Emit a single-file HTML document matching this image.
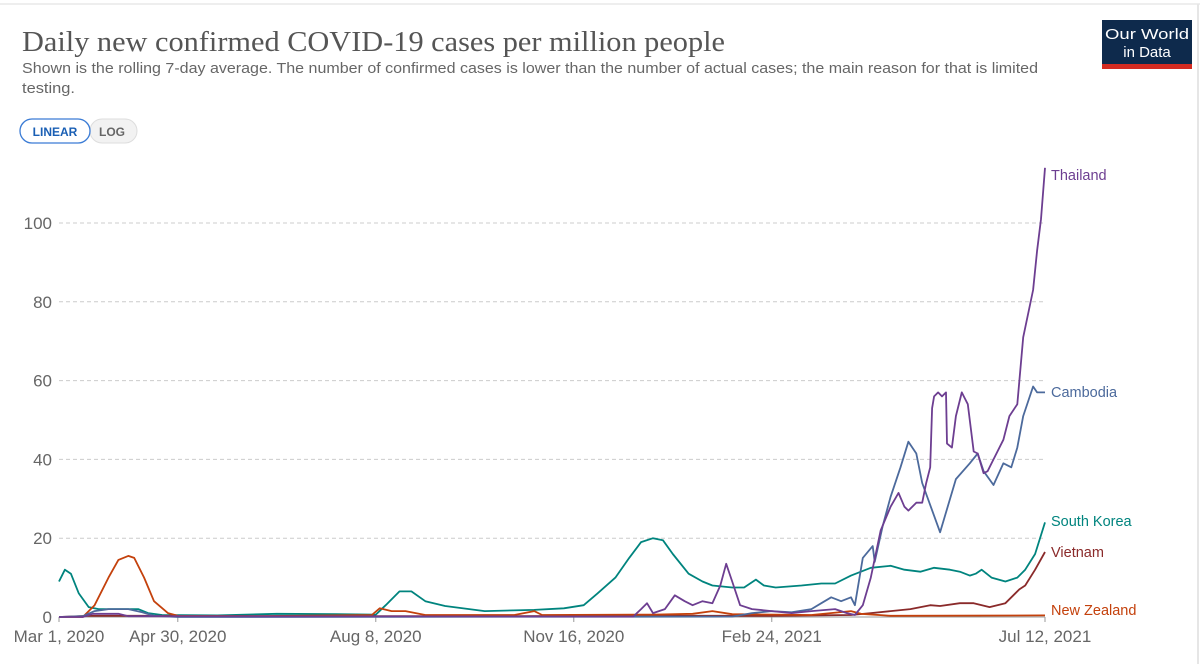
<!DOCTYPE html>
<html><head><meta charset="utf-8">
<style>
html,body{margin:0;padding:0;background:#fff;width:1200px;height:664px;overflow:hidden;font-family:"Liberation Sans",sans-serif;}
</style></head>
<body>
<svg id="chart" width="1200" height="664" viewBox="0 0 1200 664" xmlns="http://www.w3.org/2000/svg">
  <rect x="0" y="0" width="1200" height="664" fill="#fff"/>
  <line x1="0" y1="4" x2="1200" y2="4" stroke="#eee" stroke-width="2"/>
  <line x1="1198" y1="4" x2="1198" y2="664" stroke="#e6e6e6" stroke-width="2"/>
  <text x="22" y="51" font-family="Liberation Serif, serif" font-size="28" fill="#555" textLength="703" lengthAdjust="spacingAndGlyphs">Daily new confirmed COVID-19 cases per million people</text>
  <text x="22" y="73" font-size="15" fill="#666" textLength="1016" lengthAdjust="spacingAndGlyphs">Shown is the rolling 7-day average. The number of confirmed cases is lower than the number of actual cases; the main reason for that is limited</text>
  <text x="22" y="93" font-size="15" fill="#666" textLength="53" lengthAdjust="spacingAndGlyphs">testing.</text>
  <g>
    <rect x="1102" y="20" width="90" height="44" fill="#0e2a4c"/>
    <rect x="1102" y="64" width="90" height="5" fill="#d42b21"/>
    <text x="1147" y="39" font-size="15" fill="#fff" text-anchor="middle" textLength="84" lengthAdjust="spacingAndGlyphs">Our World</text>
    <text x="1147" y="57" font-size="15" fill="#fff" text-anchor="middle">in Data</text>
  </g>
  <g>
    <rect x="90" y="119" width="47" height="24" rx="12" fill="#f2f2f2" stroke="#ddd"/>
    <rect x="20" y="119" width="70" height="24" rx="12" fill="#fff" stroke="#3a7bd5" stroke-width="1.3"/>
    <text x="55" y="136" font-size="12" font-weight="bold" fill="#1a5fb4" text-anchor="middle">LINEAR</text>
    <text x="112" y="136" font-size="12" font-weight="bold" fill="#666" text-anchor="middle">LOG</text>
  </g>
  <g id="grid"></g>
  <g id="series"></g>
  <g id="labels"></g>
</svg>
<script>
const xTickDays = [0, 60, 160, 260, 360, 498];
const xTickLabels = ["Mar 1, 2020", "Apr 30, 2020", "Aug 8, 2020", "Nov 16, 2020", "Feb 24, 2021", "Jul 12, 2021"];
const yTicks = [0, 20, 40, 60, 80, 100];
const seriesNames = ["South Korea", "Vietnam", "New Zealand", "Cambodia", "Thailand"];
const skDays = [0,3,6,10,15,20,40,45,52,80,110,140,160,165,172,178,185,195,215,240,255,265,272,281,288,294,300,305,310,318,325,330,340,346,352,356,362,375,385,392,400,410,420,427,435,442,450,455,460,463,466,471,478,484,488,493,498];
const skVals = [9,12,11,6,2.5,2,2,1,0.5,0.4,0.8,0.7,0.6,3,6.5,6.5,4,2.8,1.5,1.8,2.2,3,6,10,15,19,20,19.5,16,11,9,8,7.5,7.5,9.5,8,7.5,8,8.5,8.5,10.5,12.5,13,12,11.5,12.5,12,11.5,10.5,11,12,10,9,10,12,16,24];
const vnDays = [0,15,40,100,200,300,360,400,410,420,430,440,445,455,462,470,478,485,488,493,498];
const vnVals = [0,0.3,0.3,0.2,0.2,0.3,0.3,0.5,1,1.5,2,3,2.8,3.5,3.5,2.5,3.5,7,8,12,16.5];
const nzDays = [0,12,18,25,30,35,38,43,48,55,60,100,158,162,168,175,185,230,240,244,300,320,330,340,380,400,405,420,498];
const nzVals = [0,0,3,10,14.5,15.5,15,10,4,1,0.3,0.2,0.5,2.2,1.5,1.5,0.5,0.5,1.5,0.5,0.6,0.8,1.5,0.7,0.5,1.5,0.8,0.3,0.4];
const khDays = [0,12,18,25,35,42,48,60,340,350,360,370,380,385,390,395,400,402,406,411,412,416,420,425,429,433,436,445,453,460,464,467,472,477,481,484,487,492,494,498];
const khVals = [0,0.2,1.5,2,2,1.2,0.3,0,0.1,1,1.5,1.2,2,3.5,5,4,5,3,15,18,14,23,30.5,38,44.5,41.5,34,21.5,35,39,41.5,37,33.5,39,38,43,51,58.5,57,57];
const thDays = [0,12,17,30,35,290,294,297,300,306,311,316,320,325,330,334,337,340,344,350,360,370,380,392,398,402,406,410,415,420,424,427,429,433,436,438,440,441,442,444,446,448,448.5,451,453,456,457,459,462,464,467,469,472,477,480,484,487,492,494,496,498];
const thVals = [0,0,0.8,0.8,0.2,0.1,2,3.5,1,2,5.5,4,3,4,3.5,8,13.5,9,3,2,1.5,1,1.5,2,1,0.5,3,10,22,28,31.5,28,27,29,29,34,38,53,56,57,56,57,44,43,51,57,56,54,42,41.5,36.5,37,40,45,51,54,71,83,93,101,114];

const X0 = 59, X1 = 1045, DMAX = 498, Y0 = 617, PXU = 3.94;
const xs = d => X0 + (X1 - X0) * d / DMAX;
const ys = v => Y0 - v * PXU;
const NS = "http://www.w3.org/2000/svg";
const grid = document.getElementById('grid');
const seriesG = document.getElementById('series');
const labelsG = document.getElementById('labels');
function mk(tag, attrs, parent) {
  const e = document.createElementNS(NS, tag);
  for (const k in attrs) e.setAttribute(k, attrs[k]);
  parent.appendChild(e);
  return e;
}
yTicks.forEach((t) => {
  const ln = mk('line', {x1: X0, x2: X1, y1: ys(t), y2: ys(t), stroke: t === 0 ? '#999' : '#ccc', 'stroke-dasharray': t === 0 ? '' : '4,3', 'stroke-width': 1}, grid);
  
  
  const tx = mk('text', {x: 52, y: ys(t) + 6, 'font-size': 17, fill: '#666', 'text-anchor': 'end'}, grid);
  tx.textContent = t;
  
  
});
xTickDays.forEach((d, i) => {
  const tk = mk('line', {x1: xs(d), x2: xs(d), y1: Y0, y2: Y0 + 5, stroke: '#999'}, grid);
  
  
  const tx = mk('text', {x: xs(d), y: 642, 'font-size': 17, fill: '#666', 'text-anchor': 'middle'}, grid);
  tx.textContent = xTickLabels[i];
  
  
});
const colors = ["#00847e", "#8a2a2a", "#c4410c", "#4c6a9c", "#6d3e91"];
const allDays = [skDays, vnDays, nzDays, khDays, thDays];
const allVals = [skVals, vnVals, nzVals, khVals, thVals];
const labelY = [526, 557, 615, 397, 180];
seriesNames.forEach((name, i) => {
  const pts = allDays[i].map((d, j) => xs(d).toFixed(1) + ',' + ys(allVals[i][j]).toFixed(1)).join(' ');
  const pl = mk('polyline', {points: pts, fill: 'none', stroke: colors[i], 'stroke-width': 1.8, 'stroke-linejoin': 'round'}, seriesG);
  
  
  const tx = mk('text', {x: 1051, y: labelY[i], 'font-size': 14.5, fill: colors[i]}, labelsG);
  tx.textContent = name;
  
  
});
</script>
</body></html>
